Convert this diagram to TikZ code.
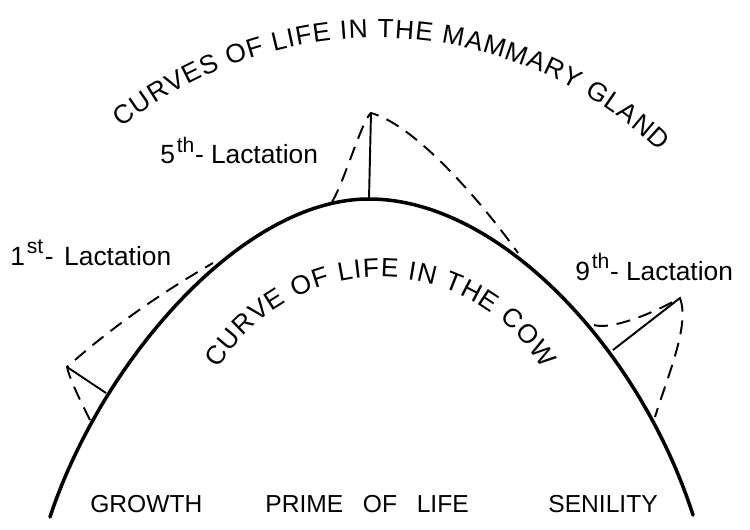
\documentclass[tikz,border=0pt]{standalone}
\usepackage{fontspec}
\setsansfont{Liberation Sans}
\usetikzlibrary{decorations.text}
\newcommand{\lacsup}[1]{\raisebox{0.8ex}{\fontsize{12}{12}\selectfont #1}}
\begin{document}
\begin{tikzpicture}[x=0.02cm,y=-0.02cm,
  lactext/.style={font=\sffamily\fontsize{15}{17}\selectfont,anchor=base west,inner sep=0pt},
  agetext/.style={font=\sffamily\fontsize{14}{16}\selectfont,anchor=base west,inner sep=0pt},
  cowline/.style={line width=2pt,line cap=round},
  glandline/.style={line width=1.1pt,dash pattern=on 8pt off 5pt},
  yieldline/.style={line width=1.1pt},
  arctext/.style={decorate,decoration={text along path,text align={fit to path},
    text={|\sffamily\fontsize{15}{17}\selectfont|#1}}}]
\useasboundingbox (0,0) rectangle (750,530);
\coordinate (p1) at (67,367);
\coordinate (f1) at (106,393);
\coordinate (p5) at (371,113);
\coordinate (f5) at (369,199);
\coordinate (p9) at (680,298);
\coordinate (f9) at (613,350);
\coordinate (top) at (369,199);
\coordinate (glandc) at (377,446);
\coordinate (cowc) at (380.6,466.2);
\draw[cowline] (50,517) .. controls (100,365) and (240,199) .. (top)
  .. controls (500,199) and (640,350) .. (693,515);
\draw[glandline] (90,420) .. controls (80,400) and (70,380) .. (p1)
  .. controls (112,327) and (161,293) .. (213,263);
\draw[glandline] (332,202) .. controls (345,180) and (362,120) .. (p5)
  .. controls (415,125) and (480,200) .. (518,253);
\draw[glandline] (594,325) .. controls (610,330) and (650,315) .. (p9)
  .. controls (690,325) and (668,375) .. (655,417);
\draw[yieldline] (p1) -- (f1);
\draw[yieldline] (p5) -- (f5);
\draw[yieldline] (p9) -- (f9);
\path[arctext={CURVES OF LIFE IN THE MAMMARY GLAND}]
  ([shift={(-128.7:408)}]glandc) arc[start angle=-128.7,end angle=-46.2,radius=408];
\path[arctext={CURVE OF LIFE IN THE COW}]
  ([shift={(-149:189)}]cowc) arc[start angle=-149,end angle=-31,radius=189];
\node[lactext] (lact1) at (10,265) {1\hspace{1pt}\lacsup{st}\hspace{1pt}-\hspace{6pt}Lactation};
\node[lactext] (lact5) at (160,164) {5\hspace{1pt}\lacsup{th}\hspace{0.5pt}-\hspace{4pt}Lactation};
\node[lactext] (lact9) at (575,280) {9\hspace{1pt}\lacsup{th}\hspace{0.5pt}-\hspace{4pt}Lactation};
\node[agetext] (growth) at (90,512) {GROWTH};
\node[agetext] (prime) at (265,512) {PRIME\hspace{0.8em}OF\hspace{0.8em}LIFE};
\node[agetext] (senility) at (548,512) {SENILITY};
\end{tikzpicture}
\end{document}
